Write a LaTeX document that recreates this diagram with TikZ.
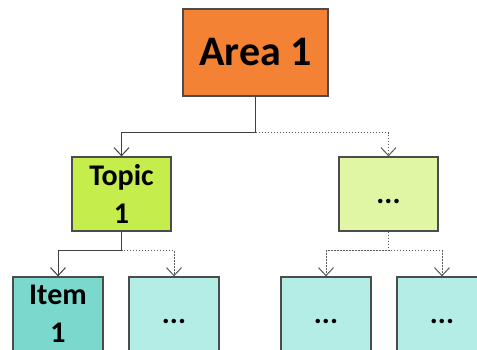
\documentclass[tikz,border=0pt]{standalone}
\usepackage{fontspec}
\setmainfont{Carlito}
\usepackage{tikz}
\usetikzlibrary{arrows.meta}

\definecolor{areaorange}{RGB}{244,130,52}
\definecolor{topicgreen}{RGB}{197,238,76}
\definecolor{topicpale}{RGB}{224,246,164}
\definecolor{itemteal}{RGB}{122,216,204}
\definecolor{itempale}{RGB}{180,236,230}

\begin{document}
\begin{tikzpicture}[x=1pt, y=-1pt, >={Straight Barb[length=8pt,width=15pt]},
    box/.style={draw=black!70, line width=1.3pt, align=center,
      font=\bfseries\fontsize{30}{38}\selectfont, inner sep=0pt},
    dots/.style={text height=24pt, text depth=5pt},
    link/.style={->, black!75, line width=1pt},
    maybe/.style={->, black!65, line width=1pt, dash pattern=on 1.5pt off 1.5pt}]
  \useasboundingbox (0,0) rectangle (477,349);
  \clip (0,0) rectangle (477,349);

  % Top level
  \node[box, fill=areaorange, minimum width=145pt, minimum height=87pt,
    font=\bfseries\fontsize{42}{50}\selectfont] (area) at (255.5,52.5) {Area 1};

  % Topics
  \node[box, fill=topicgreen, minimum width=99pt, minimum height=74pt]
    (topic) at (121.5,194) {Topic\\1};
  \node[box, dots, fill=topicpale, minimum width=99pt, minimum height=74pt]
    (more) at (388.5,194) {...};

  % Items
  \node[box, fill=itemteal, minimum width=90pt, minimum height=74pt]
    (item) at (58,314) {Item\\1};
  \node[box, dots, fill=itempale, minimum width=90pt, minimum height=74pt]
    (itemb) at (174,314) {...};
  \node[box, dots, fill=itempale, minimum width=90pt, minimum height=74pt]
    (itemc) at (326,314) {...};
  \node[box, dots, fill=itempale, minimum width=90pt, minimum height=74pt]
    (itemd) at (442,314) {...};

  % Links
  \draw[maybe] (area.south) -- ++(0,36) -| (more.north);
  \draw[link] (area.south) -- ++(0,36) -| (topic.north);

  \draw[maybe] (topic.south) -- ++(0,19) -| (itemb.north);
  \draw[link] (topic.south) -- ++(0,19) -| (item.north);

  \draw[maybe] (more.south) -- ++(0,19) -| (itemc.north);
  \draw[maybe] (more.south) -- ++(0,19) -| (itemd.north);
\end{tikzpicture}
\end{document}
